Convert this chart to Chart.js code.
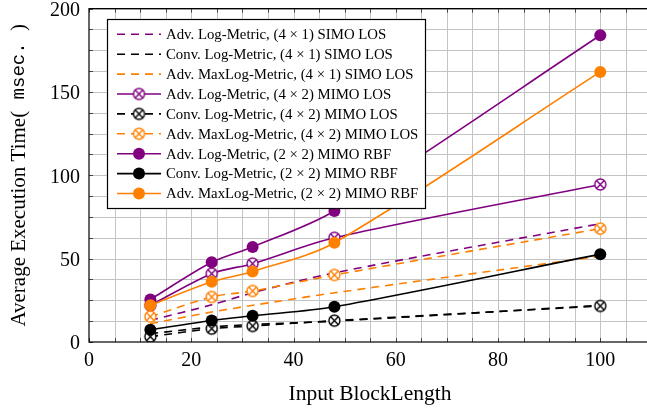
<!DOCTYPE html>
<html>
<head>
<meta charset="utf-8">
<script src="https://cdn.jsdelivr.net/npm/chart.js@4.4.1/dist/chart.umd.min.js"></script>
<style>
html,body{margin:0;padding:0;overflow:hidden;background:#fff;}
#wrap{width:660px;height:411px;}
</style>
</head>
<body>
<div id="wrap"><canvas id="c" width="660" height="411"></canvas></div>
<script>
// ---- data ----
const blockLengths = [12, 24, 32, 48, 100];
const advLogSIMO       = [13, 22.3, 29.5, 41.5, 71];
const convLogSIMO      = [5, 9, 10.5, 12.5, 22];
const advMaxLogSIMO    = [11, 18, 22, 29.5, 51.5];
const advLogMIMOLOS    = [22, 41, 47, 62.5, 94.5];
const convLogMIMOLOS   = [3.2, 8, 9.6, 12.8, 21.6];
const advMaxLogMIMOLOS = [15.2, 27, 30.6, 40.2, 68];
const advLogRBF        = [25.5, 47.8, 57, 78.6, 184];
const convLogRBF       = [7.4, 12.9, 15.7, 21.1, 52.7];
const advMaxLogRBF     = [22, 36.1, 42.3, 59.5, 162];
const seriesLabels = [
  'Adv. Log-Metric, (4 \u00d7 1) SIMO LOS',
  'Conv. Log-Metric, (4 \u00d7 1) SIMO LOS',
  'Adv. MaxLog-Metric, (4 \u00d7 1) SIMO LOS',
  'Adv. Log-Metric, (4 \u00d7 2) MIMO LOS',
  'Conv. Log-Metric, (4 \u00d7 2) MIMO LOS',
  'Adv. MaxLog-Metric, (4 \u00d7 2) MIMO LOS',
  'Adv. Log-Metric, (2 \u00d7 2) MIMO RBF',
  'Conv. Log-Metric, (2 \u00d7 2) MIMO RBF',
  'Adv. MaxLog-Metric, (2 \u00d7 2) MIMO RBF'
];
const xTickLabels = [0, 20, 40, 60, 80, 100];
const yTickLabels = [0, 50, 100, 150, 200];

const PURPLE = '#800080', BLACK = '#000000', ORANGE = '#ff8000';
const DASH = [8, 6];

function otimes(color) {
  const s = 15, c = document.createElement('canvas');
  c.width = s; c.height = s;
  const g = c.getContext('2d');
  const r = 5.5, m = s / 2;
  g.beginPath(); g.arc(m, m, r, 0, Math.PI * 2);
  g.fillStyle = '#fff'; g.fill();
  g.lineWidth = 1.4; g.strokeStyle = color; g.stroke();
  const d = r * Math.SQRT1_2;
  g.beginPath();
  g.moveTo(m - d, m - d); g.lineTo(m + d, m + d);
  g.moveTo(m + d, m - d); g.lineTo(m - d, m + d);
  g.stroke();
  return c;
}

function pts(arr) { return blockLengths.map((x, i) => ({x: x, y: arr[i]})); }

function ds(label, arr, color, dashed, marker, idx) {
  const o = {
    label: label, data: pts(arr), borderColor: color, backgroundColor: color,
    borderWidth: 1.6, borderDash: dashed ? DASH : [], tension: 0.3,
    pointRadius: 0, pointHoverRadius: 0, fill: false, order: 9 - idx
  };
  if (marker === 'dot') { o.pointStyle = 'circle'; o.pointRadius = 6; o.pointBorderWidth = 0; o.pointBackgroundColor = color; }
  if (marker === 'ot') { o.pointStyle = otimes(color); o.pointRadius = 7; }
  o._marker = marker;
  return o;
}

const datasets = [
  ds(seriesLabels[0], advLogSIMO, PURPLE, true, null, 0),
  ds(seriesLabels[1], convLogSIMO, BLACK, true, null, 1),
  ds(seriesLabels[2], advMaxLogSIMO, ORANGE, true, null, 2),
  ds(seriesLabels[3], advLogMIMOLOS, PURPLE, false, 'ot', 3),
  ds(seriesLabels[4], convLogMIMOLOS, BLACK, true, 'ot', 4),
  ds(seriesLabels[5], advMaxLogMIMOLOS, ORANGE, true, 'ot', 5),
  ds(seriesLabels[6], advLogRBF, PURPLE, false, 'dot', 6),
  ds(seriesLabels[7], convLogRBF, BLACK, false, 'dot', 7),
  ds(seriesLabels[8], advMaxLogRBF, ORANGE, false, 'dot', 8)
];

const SERIF = '"Liberation Serif", "DejaVu Serif", serif';
const MONO = '"Liberation Mono", "DejaVu Sans Mono", monospace';

const decor = {
  id: 'decor',
  beforeDatasetsDraw(chart) {
    const ctx = chart.ctx, a = chart.chartArea;
    const xs = chart.scales.x, ys = chart.scales.y;
    ctx.save();
    ctx.strokeStyle = '#c4c4c4'; ctx.lineWidth = 1;
    ctx.beginPath();
    for (let v = 5; v <= 110; v += 5) {
      const px = Math.round(xs.getPixelForValue(v)) + 0.5;
      ctx.moveTo(px, a.top); ctx.lineTo(px, a.bottom);
    }
    for (let v = 12.5; v <= 200; v += 12.5) {
      const py = Math.round(ys.getPixelForValue(v)) + 0.5;
      ctx.moveTo(a.left, py); ctx.lineTo(a.right, py);
    }
    ctx.stroke();
    // inner tick marks
    ctx.strokeStyle = '#444'; ctx.lineWidth = 1;
    ctx.beginPath();
    for (let v = 0; v <= 110; v += 5) {
      const px = Math.round(xs.getPixelForValue(v)) + 0.5;
      ctx.moveTo(px, a.bottom); ctx.lineTo(px, a.bottom - 4);
      ctx.moveTo(px, a.top); ctx.lineTo(px, a.top + 4);
    }
    for (let v = 0; v <= 200; v += 12.5) {
      const py = Math.round(ys.getPixelForValue(v)) + 0.5;
      ctx.moveTo(a.left, py); ctx.lineTo(a.left + 4, py);
    }
    ctx.stroke();
    // tick labels
    ctx.fillStyle = '#000';
    ctx.font = '20px ' + SERIF; ctx.textBaseline = 'middle';
    ctx.textAlign = 'center';
    xTickLabels.forEach(v => ctx.fillText(String(v), xs.getPixelForValue(v), 361));
    ctx.textAlign = 'right';
    yTickLabels.forEach(v => ctx.fillText(String(v), a.left - 9, ys.getPixelForValue(v) + 2));
    ctx.restore();
  },
  afterDatasetsDraw(chart) {
    const ctx = chart.ctx, a = chart.chartArea;
    ctx.save();
    // frame
    ctx.strokeStyle = '#000'; ctx.lineWidth = 1.2;
    ctx.strokeRect(a.left, a.top, a.right - a.left, a.bottom - a.top);

    // legend
    const lx = 107, ly = 19, lw = 318, lh = 189;
    ctx.fillStyle = '#fff'; ctx.fillRect(lx, ly, lw, lh);
    ctx.strokeStyle = '#000'; ctx.lineWidth = 1.2; ctx.strokeRect(lx + 0.5, ly + 0.5, lw, lh);
    ctx.font = '14.8px ' + SERIF; ctx.textBaseline = 'middle'; ctx.textAlign = 'left';
    chart.data.datasets.forEach((d, i) => {
      const cy = 34.3 + i * 19.9;
      ctx.strokeStyle = d.borderColor; ctx.lineWidth = 1.6;
      ctx.setLineDash(d.borderDash || []);
      ctx.beginPath(); ctx.moveTo(117, cy); ctx.lineTo(161, cy); ctx.stroke();
      ctx.setLineDash([]);
      if (d._marker === 'dot') {
        ctx.fillStyle = d.borderColor; ctx.beginPath(); ctx.arc(139, cy, 6, 0, Math.PI * 2); ctx.fill();
      } else if (d._marker === 'ot') {
        ctx.drawImage(d.pointStyle, 139 - d.pointStyle.width / 2, cy - d.pointStyle.height / 2);
      }
      ctx.fillStyle = '#000';
      ctx.fillText(d.label, 166, cy + 1);
    });

    // axis titles
    ctx.fillStyle = '#000';
    ctx.font = '21.5px ' + SERIF; ctx.textAlign = 'center'; ctx.textBaseline = 'alphabetic';
    ctx.fillText('Input BlockLength', 370, 400);

    const p1 = 'Average Execution Time(', p2 = ' msec. ', p3 = ')';
    ctx.font = '21px ' + SERIF; const w1 = ctx.measureText(p1).width, w3 = ctx.measureText(p3).width;
    ctx.font = '19px ' + MONO; const w2 = ctx.measureText(p2).width;
    const tot = w1 + w2 + w3;
    ctx.translate(19, (a.top + a.bottom) / 2);
    ctx.rotate(-Math.PI / 2);
    ctx.textAlign = 'left'; ctx.textBaseline = 'middle';
    let x0 = -tot / 2;
    ctx.font = '21px ' + SERIF; ctx.fillText(p1, x0, 0);
    ctx.font = '19px ' + MONO; ctx.fillText(p2, x0 + w1, 0);
    ctx.font = '21px ' + SERIF; ctx.fillText(p3, x0 + w1 + w2, 0);
    ctx.restore();
  }
};

new Chart(document.getElementById('c'), {
  type: 'line',
  data: { datasets: datasets },
  options: {
    responsive: false,
    animation: false,
    events: [],
    layout: { padding: { top: 8, right: 8, left: 0, bottom: 0 } },
    plugins: { legend: { display: false }, tooltip: { enabled: false } },
    scales: {
      x: {
        type: 'linear', min: 0, max: 110,
        grid: { display: false },
        border: { display: false },
        ticks: { display: false, stepSize: 5 },
        afterFit: s => { s.height = 69; }
      },
      y: {
        type: 'linear', min: 0, max: 200,
        grid: { display: false },
        border: { display: false },
        ticks: { display: false, stepSize: 12.5 },
        afterFit: s => { s.width = 89; }
      }
    }
  },
  plugins: [decor]
});
</script>
</body>
</html>
